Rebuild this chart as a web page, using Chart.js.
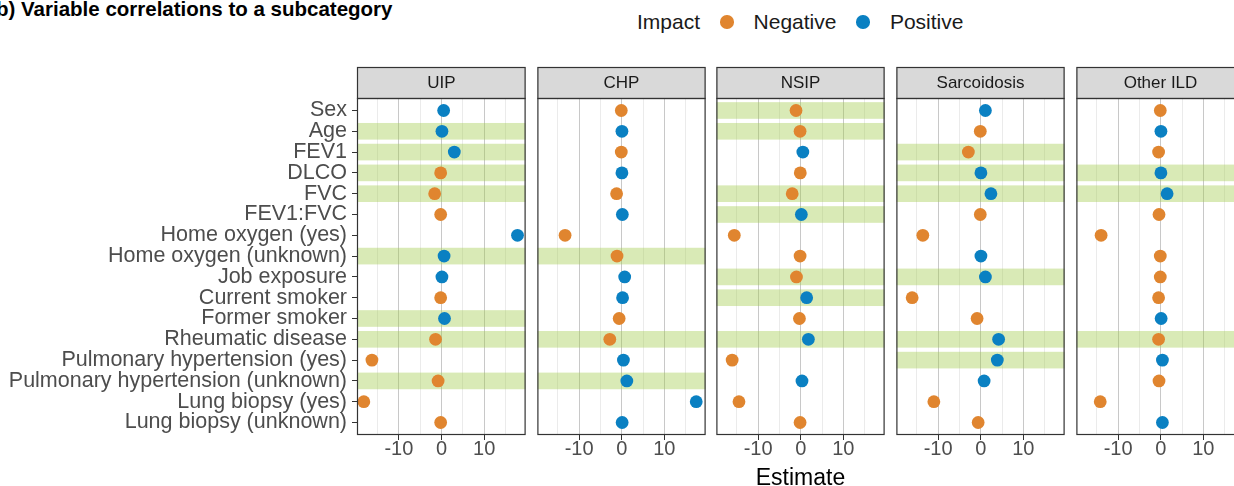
<!DOCTYPE html>
<html>
<head>
<meta charset="utf-8">
<script src="https://cdn.jsdelivr.net/npm/chart.js@4.4.1/dist/chart.umd.min.js"></script>
<style>
  html, body { margin: 0; padding: 0; background: #fff; }
  body { width: 1234px; height: 486px; overflow: hidden; position: relative;
         font-family: "Liberation Sans", Arial, Helvetica, sans-serif; }
  canvas.panel { position: absolute; top: 0; }
  #title { position: absolute; left: -4px; top: -3px; font-size: 20.5px; font-weight: bold;
           color: #000; white-space: nowrap; }
  #legend { position: absolute; left: 637px; top: 9px; height: 26px; font-size: 21px;
            color: #1a1a1a; white-space: nowrap; display: flex; align-items: center; }
  #legend .dot { display: inline-block; width: 13.5px; height: 13.5px; border-radius: 50%;
                 margin: 0 20px 0 20px; }
</style>
</head>
<body>
<div id="title">b) Variable correlations to a subcategory</div>
<div id="legend"></div>

<script>
// ---- data ----
const variables = [
  'Sex', 'Age', 'FEV1', 'DLCO', 'FVC', 'FEV1:FVC',
  'Home oxygen (yes)', 'Home oxygen (unknown)', 'Job exposure',
  'Current smoker', 'Former smoker', 'Rheumatic disease',
  'Pulmonary hypertension (yes)', 'Pulmonary hypertension (unknown)',
  'Lung biopsy (yes)', 'Lung biopsy (unknown)'
];
const subcategories = ['UIP', 'CHP', 'NSIP', 'Sarcoidosis', 'Other ILD'];

const estimatesUIP         = [0.5, 0.1, 3.0, -0.2, -1.6, -0.2, 17.8, 0.6, 0.1, -0.2, 0.7, -1.4, -16.3, -0.8, -18.2, -0.2];
const estimatesCHP         = [-0.1, 0.05, -0.1, 0.05, -1.2, 0.15, -13.3, -1.1, 0.7, 0.2, -0.6, -2.8, 0.4, 1.2, 17.5, 0.1];
const estimatesNSIP        = [-1.1, -0.15, 0.5, -0.1, -2.0, 0.15, -15.6, -0.15, -1.0, 1.4, -0.3, 1.8, -16.1, 0.3, -14.5, -0.15];
const estimatesSarcoidosis = [1.1, -0.1, -2.9, 0.05, 2.4, -0.1, -13.6, 0.05, 1.1, -16.1, -0.85, 4.2, 3.9, 0.8, -11.0, -0.6];
const estimatesOtherILD    = [-0.1, 0.05, -0.5, 0.05, 1.5, -0.4, -14.0, -0.1, -0.1, -0.5, 0.1, -0.5, 0.4, -0.4, -14.2, 0.4];

const highlightUIP = ['Age', 'FEV1', 'DLCO', 'FVC', 'Home oxygen (unknown)', 'Former smoker',
                      'Rheumatic disease', 'Pulmonary hypertension (unknown)'];
const highlightCHP = ['Home oxygen (unknown)', 'Rheumatic disease', 'Pulmonary hypertension (unknown)'];
const highlightNSIP = ['Sex', 'Age', 'FVC', 'FEV1:FVC', 'Job exposure', 'Current smoker', 'Rheumatic disease'];
const highlightSarcoidosis = ['FEV1', 'DLCO', 'FVC', 'Job exposure', 'Rheumatic disease',
                              'Pulmonary hypertension (yes)'];
const highlightOtherILD = ['DLCO', 'FVC', 'Rheumatic disease'];

const xTickValues = [-10, 0, 10];
const xMinorValues = [-15, -5, 5, 15];
const impactLevels = ['Negative', 'Positive'];

// ---- styling ----
const FONT = '"Liberation Sans", Arial, Helvetica, sans-serif';
const impactColors = { Negative: '#E0852F', Positive: '#0A80C2' };
const BAND_COLOR = 'rgba(160, 203, 72, 0.4)';
const STRIP_H = 31;

const panelEstimates = [estimatesUIP, estimatesCHP, estimatesNSIP, estimatesSarcoidosis, estimatesOtherILD];
const panelHighlights = [highlightUIP, highlightCHP, highlightNSIP, highlightSarcoidosis, highlightOtherILD];
const panelLefts = [357, 537, 716, 896, 1076];
const PANEL_W = 169;
const SIDE_PAD = 6;
const Y_AXIS_W = 357;

// legend
const legendEl = document.getElementById('legend');
legendEl.appendChild(document.createTextNode('Impact'));
impactLevels.forEach(level => {
  const d = document.createElement('span');
  d.className = 'dot';
  d.style.background = impactColors[level];
  legendEl.appendChild(d);
  legendEl.appendChild(document.createTextNode(level));
});

// highlighted rows, drawn as translucent bands behind the points
const bandsPlugin = {
  id: 'bands',
  beforeDatasetsDraw(chart, args, opts) {
    const { ctx, chartArea } = chart;
    const y = chart.scales.y;
    ctx.save();
    ctx.fillStyle = BAND_COLOR;
    (opts.rows || []).forEach(name => {
      const i = variables.indexOf(name) + 1;
      const y0 = y.getPixelForValue(i - 0.4);
      const y1 = y.getPixelForValue(i + 0.4);
      ctx.fillRect(chartArea.left, Math.min(y0, y1), chartArea.right - chartArea.left, Math.abs(y1 - y0));
    });
    ctx.restore();
  }
};

// facet strip above the panel and the panel frame
const stripPlugin = {
  id: 'strip',
  afterDraw(chart, args, opts) {
    const { ctx, chartArea: a } = chart;
    ctx.save();
    ctx.fillStyle = '#D9D9D9';
    ctx.fillRect(a.left, a.top - STRIP_H, a.right - a.left, STRIP_H);
    ctx.strokeStyle = '#333333';
    ctx.lineWidth = 1.2;
    ctx.strokeRect(a.left + 0.5, a.top - STRIP_H + 0.5, a.right - a.left - 1, STRIP_H);
    ctx.strokeRect(a.left + 0.5, a.top + 0.5, a.right - a.left - 1, a.bottom - a.top - 1);
    ctx.fillStyle = '#1A1A1A';
    ctx.font = '17px ' + FONT;
    ctx.textAlign = 'center';
    ctx.textBaseline = 'middle';
    ctx.fillText(opts.label, (a.left + a.right) / 2, a.top - STRIP_H / 2 + 1);
    ctx.restore();
  }
};

function makePanel(k) {
  const first = k === 0;
  const canvas = document.createElement('canvas');
  canvas.className = 'panel';
  const left = first ? 0 : panelLefts[k] - SIDE_PAD;
  const width = first ? Y_AXIS_W + PANEL_W + SIDE_PAD : PANEL_W + 2 * SIDE_PAD;
  canvas.style.left = left + 'px';
  canvas.width = width;
  canvas.height = 486;
  canvas.style.width = width + 'px';
  canvas.style.height = '486px';
  document.body.appendChild(canvas);

  const est = panelEstimates[k];
  const datasets = impactLevels.map(level => ({
    label: level,
    data: est.map((v, i) => ({ x: v, y: i + 1 }))
             .filter(p => (level === 'Negative') === (p.x < 0)),
    backgroundColor: impactColors[level],
    borderWidth: 0,
    pointRadius: 6.4,
    pointHoverRadius: 6.4
  }));

  new Chart(canvas, {
    type: 'scatter',
    data: { datasets },
    options: {
      responsive: false,
      animation: false,
      events: [],
      layout: { padding: { top: 98, bottom: 0, left: first ? 0 : SIDE_PAD, right: SIDE_PAD } },
      plugins: {
        legend: { display: false },
        tooltip: { enabled: false },
        bands: { rows: panelHighlights[k] },
        strip: { label: subcategories[k] }
      },
      scales: {
        x: {
          type: 'linear',
          min: -19.8,
          max: 19.7,
          afterBuildTicks: s => {
            s.ticks = [...xMinorValues, ...xTickValues].sort((a, b) => a - b).map(v => ({ value: v }));
          },
          afterFit: s => { s.height = 51; },
          border: { display: false },
          grid: {
            color: c => (c.tick && xTickValues.includes(c.tick.value)) ? '#C8C8C8' : '#EBEBEB',
            tickColor: c => (c.tick && xTickValues.includes(c.tick.value)) ? '#333333' : 'rgba(0,0,0,0)',
            lineWidth: 1,
            tickLength: 5
          },
          ticks: {
            autoSkip: false,
            maxRotation: 0,
            padding: -3,
            color: '#4D4D4D',
            font: { family: FONT, size: 20 },
            callback: v => xTickValues.includes(v) ? String(v) : ''
          },
          title: {
            display: k === 2,
            text: 'Estimate',
            color: '#000000',
            font: { family: FONT, size: 23, lineHeight: 1 },
            padding: { top: 0, bottom: -4 }
          }
        },
        y: {
          type: 'linear',
          reverse: true,
          min: 0.4,
          max: 16.6,
          afterBuildTicks: s => { s.ticks = variables.map((_, i) => ({ value: i + 1 })); },
          afterFit: s => { s.width = first ? Y_AXIS_W : 0; },
          border: { display: false },
          grid: { drawOnChartArea: false, drawTicks: first, tickLength: first ? 5 : 0, tickColor: '#333333' },
          ticks: {
            display: first,
            autoSkip: false,
            padding: 5,
            color: '#4D4D4D',
            font: { family: FONT, size: 21.5 },
            callback: v => variables[v - 1]
          }
        }
      }
    },
    plugins: [bandsPlugin, stripPlugin]
  });
}

subcategories.forEach((_, k) => makePanel(k));
</script>
</body>
</html>
